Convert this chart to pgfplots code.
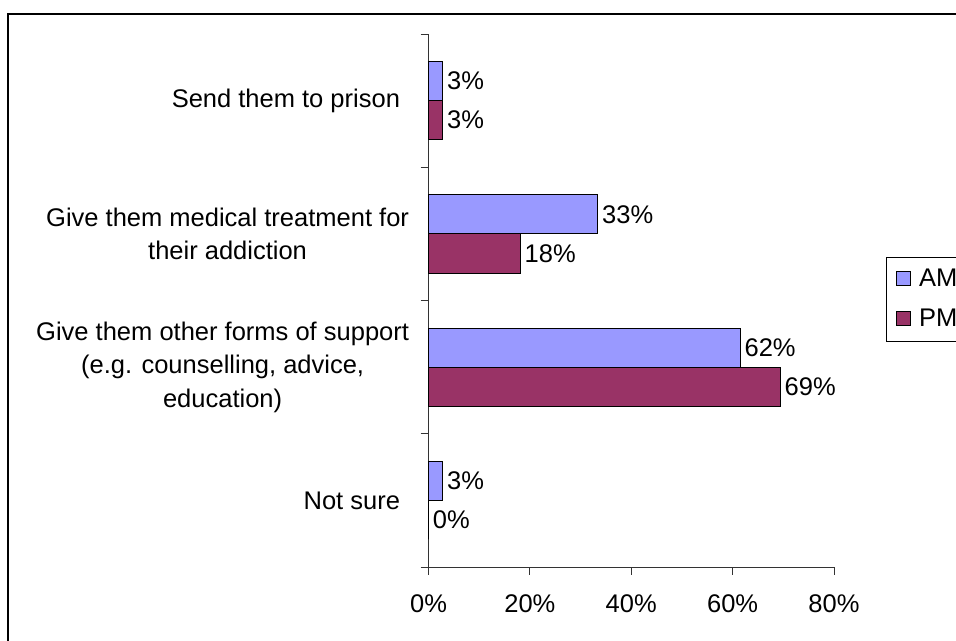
\documentclass[border=0pt]{standalone}
\usepackage{fontspec}
\setmainfont{Liberation Sans}
\usepackage{pgfplots}
\pgfplotsset{compat=1.18}
\definecolor{amc}{HTML}{9999FF}
\definecolor{pmc}{HTML}{993366}
\newcommand\cf{\fontsize{25.5bp}{33.5bp}\selectfont}
\newcommand\tf{\fontsize{25.5bp}{30bp}\selectfont}
\begin{document}
\begin{tikzpicture}[x=1bp,y=1bp]
\path[use as bounding box] (0,0) rectangle (956,641);
\clip (0,0) rectangle (956,641);
\draw[line width=2.5bp] (8,-10) -- (8,627) -- (980,627);
\begin{axis}[
  at={(428.5bp,74bp)}, anchor=south west,
  scale only axis, width=405.5bp, height=533bp,
  xmin=0, xmax=80, ymin=-0.5, ymax=3.5,
  axis lines=left,
  axis line style={-, line width=0.8bp, black!80},
  every tick/.style={black!80, line width=0.8bp},
  tick align=outside,
  major tick length=8bp, minor tick length=8bp,
  xtick={0,20,40,60,80},
  xticklabels={0\%,20\%,40\%,60\%,80\%},
  xticklabel style={font=\tf, yshift=-16bp},
  ytick={0,1,2,3},
  yticklabels={Not sure\hspace*{9bp},
    {Give them other forms of support\\(e.g. counselling, advice,\\education)},
    {Give them medical treatment for\\their addiction},
    Send them to prison\hspace*{9bp}},
  yticklabel style={font=\cf, align=center, anchor=east, xshift=-8bp},
  major y tick style={draw=none},
  minor ytick={-0.5,0.5,1.5,2.5,3.5},
  xbar,
  bar width=0.293,
  point meta=x,
  nodes near coords={\pgfmathprintnumber[fixed,precision=0,assume math mode=true]{\pgfplotspointmeta}\%},
  nodes near coords style={font=\tf, anchor=west, inner sep=2bp, xshift=2bp},
  legend style={at={(1.1282,0.5816)}, anchor=north west, draw=black, line width=0.8bp,
    font=\tf, inner xsep=10bp, inner ysep=10bp, row sep=16bp,
    nodes={inner sep=0pt, text height=19bp, text depth=5bp}},
  legend cell align=left,
  clip=false,
]
\addplot[bar shift=0.1465, fill=amc, draw=black, line width=0.8bp,
  legend image code/.code={\draw[fill=amc,draw=black,line width=0.8bp] (0bp,-6bp) rectangle (14bp,8bp); \path (22bp,0bp);}]
  coordinates {(2.8,3) (33.4,2) (61.5,1) (2.8,0)};
\addplot[bar shift=-0.1465, fill=pmc, draw=black, line width=0.8bp,
  legend image code/.code={\draw[fill=pmc,draw=black,line width=0.8bp] (0bp,-6bp) rectangle (14bp,8bp); \path (22bp,0bp);}]
  coordinates {(2.8,3) (18.1,2) (69.4,1) (0,0)};
\legend{AM,PM}
\end{axis}
\end{tikzpicture}
\end{document}
